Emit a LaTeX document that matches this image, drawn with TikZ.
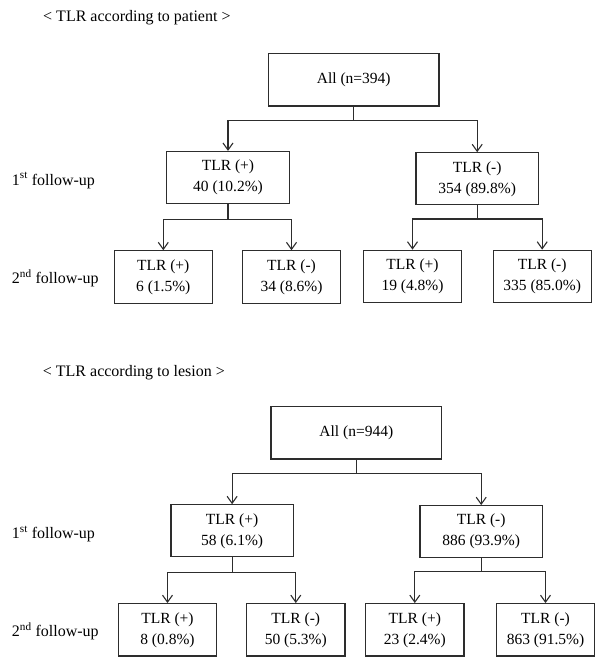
\documentclass[tikz,border=0pt]{standalone}
\usepackage{fontspec}
\setmainfont{Liberation Serif}
\usetikzlibrary{arrows.meta}
\definecolor{linec}{RGB}{45,45,45}
\begin{document}
\begin{tikzpicture}[x=1pt,y=-1pt,
  box/.style={draw=linec, line width=1.2pt, inner sep=0pt, align=center,
    font=\fontsize{15.5}{21}\selectfont},
  topbox/.style={box, minimum width=170.5pt, minimum height=52.5pt},
  midbox/.style={box, minimum width=122.4pt, minimum height=52pt},
  leafbox/.style={box, minimum width=98.2pt, minimum height=52.3pt},
  lbl/.style={anchor=base west, inner sep=0pt, font=\fontsize{16}{19}\selectfont},
  conn/.style={draw=linec, line width=1.2pt},
  arr/.style={conn, -{Straight Barb[length=7pt,width=10pt,line width=1.1pt]}}]
\useasboundingbox (0,0) rectangle (605,667);

% ---------- patient ----------
\node[lbl] (t1) at (43,21.7) {< TLR according to patient >};
\node[topbox] (all1) at (353.7,79.7) {All (n=394)};
\node[midbox] (p1) at (228,177.5) {TLR (+)\\40 (10.2\%)};
\node[midbox] (n1) at (477.2,178.8) {TLR (-)\\354 (89.8\%)};
\node[leafbox] (pp1) at (163.3,277) {TLR (+)\\6 (1.5\%)};
\node[leafbox] (pn1) at (291.5,277) {TLR (-)\\34 (8.6\%)};
\node[leafbox] (np1) at (412.5,276.4) {TLR (+)\\19 (4.8\%)};
\node[leafbox] (nn1) at (542.2,276.4) {TLR (-)\\335 (85.0\%)};
\node[lbl] (f11) at (11.7,185) {1\textsuperscript{st} follow-up};
\node[lbl] (f12) at (11.7,283.3) {2\textsuperscript{nd} follow-up};

\draw[arr] (all1.south) -- ++(0,14) -| (p1.north);
\draw[arr] (all1.south) -- ++(0,14) -| (n1.north);
\draw[arr] (p1.south) -- ++(0,15) -| (pp1.north);
\draw[arr] (p1.south) -- ++(0,15) -| (pn1.north);
\draw[arr] (n1.south) -- ++(0,13.5) -| (np1.north);
\draw[arr] (n1.south) -- ++(0,13.5) -| (nn1.north);

% ---------- lesion ----------
\node[lbl] (t2) at (42.7,376) {< TLR according to lesion >};
\node[topbox] (all2) at (356.3,432.7) {All (n=944)};
\node[midbox] (p2) at (232.1,530.8) {TLR (+)\\58 (6.1\%)};
\node[midbox] (n2) at (481.2,531.7) {TLR (-)\\886 (93.9\%)};
\node[leafbox] (pp2) at (167.5,629.8) {TLR (+)\\8 (0.8\%)};
\node[leafbox] (pn2) at (295.8,629.8) {TLR (-)\\50 (5.3\%)};
\node[leafbox] (np2) at (414.8,629.8) {TLR (+)\\23 (2.4\%)};
\node[leafbox] (nn2) at (545.5,629.8) {TLR (-)\\863 (91.5\%)};
\node[lbl] (f21) at (11.7,538.3) {1\textsuperscript{st} follow-up};
\node[lbl] (f22) at (11.7,636.7) {2\textsuperscript{nd} follow-up};

\draw[arr] (all2.south) -- ++(0,14) -| (p2.north);
\draw[arr] (all2.south) -- ++(0,14) -| (n2.north);
\draw[arr] (p2.south) -- ++(0,15) -| (pp2.north);
\draw[arr] (p2.south) -- ++(0,15) -| (pn2.north);
\draw[arr] (n2.south) -- ++(0,13.5) -| (np2.north);
\draw[arr] (n2.south) -- ++(0,13.5) -| (nn2.north);
\end{tikzpicture}
\end{document}
